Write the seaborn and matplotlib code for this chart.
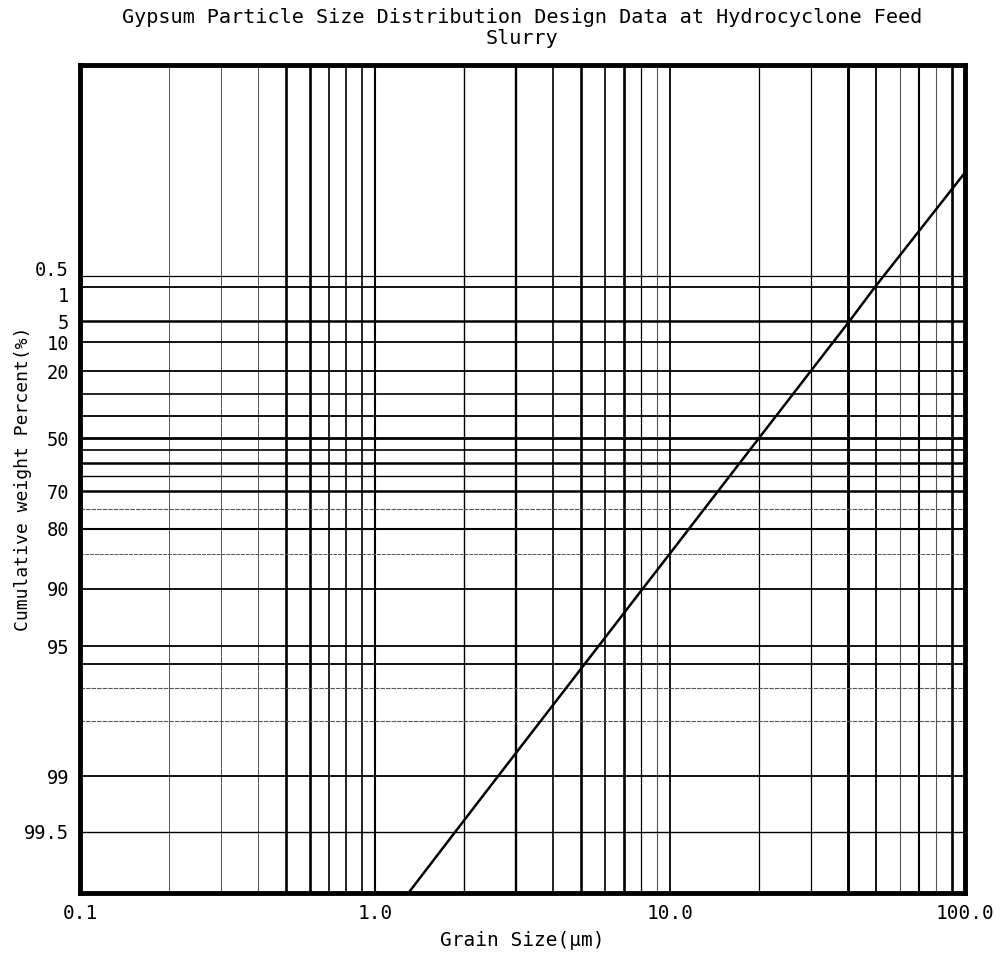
import numpy as np
import matplotlib
matplotlib.use("Agg")
import matplotlib.pyplot as plt
import seaborn as sns
from matplotlib.ticker import NullLocator

# distribution line (grain size um, cumulative weight %)
sizes = [1.29, 1.87, 2.61, 5.72, 8.08, 9.96, 13.1, 20.0, 30.0, 40.5, 49.5, 100.0]
weight_pct = [99.77, 99.5, 99.0, 95.0, 90.0, 85.0, 75.0, 50.0, 20.0, 5.0, 1.0, 4e-7]

x_ticks = [0.1, 1.0, 10.0, 100.0]
x_tick_labels = ["0.1", "1.0", "10.0", "100.0"]
y_ticks = [0.5, 1, 5, 10, 20, 50, 70, 80, 90, 95, 99, 99.5]
y_tick_labels = ["0.5", "1", "5", "10", "20", "50", "70", "80", "90", "95", "99", "99.5"]

# printed grid of the paper
v_grid = [0.2, 0.3, 0.4, 0.5, 0.6, 0.7, 0.8, 0.9, 1, 2, 3, 4, 5, 6, 7, 8, 9,
          10, 20, 30, 40, 50, 60, 70, 80, 90]
v_grid_lw = [0.7, 0.7, 0.7, 1.9, 1.9, 1.2, 1.2, 1.2, 1.5, 1.0, 1.7, 1.2, 1.9, 1.2, 1.9, 0.9, 0.8,
             1.3, 0.9, 0.9, 2.1, 1.3, 0.8, 1.5, 0.8, 1.9]
h_grid = [0.5, 1, 5, 10, 20, 30, 40, 50, 55, 60, 65, 70, 75, 80, 85, 90, 95, 96, 97, 98, 99, 99.5]
h_grid_lw = [0.9, 1.3, 1.8, 1.3, 1.3, 1.2, 1.3, 2.0, 1.2, 1.8, 1.0, 1.8, 0.8, 1.5, 0.7, 1.3,
             1.3, 1.3, 0.8, 0.8, 1.3, 1.0]


def rr_fwd(p):
    # Rosin-Rammler probability scale
    p = np.clip(np.asarray(p, dtype=float), 1e-300, 100 - 1e-12)
    return -np.log(np.log(100.0 / p))


def rr_inv(g):
    return 100.0 * np.exp(-np.exp(-np.asarray(g, dtype=float)))


sns.set_style("white")
plt.rcParams['font.family'] = ['DejaVu Sans Mono', 'DejaVu Sans']
plt.rcParams['text.color'] = 'black'
plt.rcParams['xtick.color'] = 'black'
plt.rcParams['ytick.color'] = 'black'
plt.rcParams['axes.labelcolor'] = 'black'

fig, ax = plt.subplots(figsize=(10.03, 9.56), dpi=100)
fig.subplots_adjust(left=80/1003, right=965/1003, top=1-65/956, bottom=1-893/956)
ax.set_xscale('log')
ax.set_yscale('function', functions=(rr_fwd, rr_inv))

for v, lw in zip(v_grid, v_grid_lw):
    ax.axvline(v, color='black' if lw > 0.85 else '#555555', lw=lw, zorder=1)
for h, lw in zip(h_grid, h_grid_lw):
    ax.axhline(h, color='black' if lw > 0.85 else '#555555', lw=lw, zorder=1,
               ls='-' if lw > 0.85 else (0, (4, 1)))

sns.lineplot(x=sizes, y=weight_pct, color='black', linewidth=1.8, sort=False, ax=ax, zorder=3)

ax.set_xlim(0.1, 100)
ax.set_ylim(99.767, 5e-31)

ax.set_xticks(x_ticks)
ax.set_xticklabels(x_tick_labels, fontsize=14)
ax.set_yticks(y_ticks)
ax.set_yticklabels(y_tick_labels, fontsize=13.5)
ax.xaxis.set_minor_locator(NullLocator())
ax.yaxis.set_minor_locator(NullLocator())
ax.tick_params(length=0, pad=8)
ylabels = ax.get_yticklabels()
ylabels[0].set_va('baseline')
ylabels[1].set_va('top')

for s in ax.spines.values():
    s.set_linewidth(3.5)
    s.set_color('black')

ax.set_xlabel("Grain Size(μm)", fontsize=14, labelpad=6)
ax.set_ylabel("Cumulative weight Percent(%)", fontsize=13)
ax.yaxis.set_label_coords(-0.054, 0.5)
fig.text(522/1003, 1 - 8/956,
         "Gypsum Particle Size Distribution Design Data at Hydrocyclone Feed\nSlurry",
         ha='center', va='top', fontsize=14.5, linespacing=1.15)

fig.savefig("out.png", dpi=100)
